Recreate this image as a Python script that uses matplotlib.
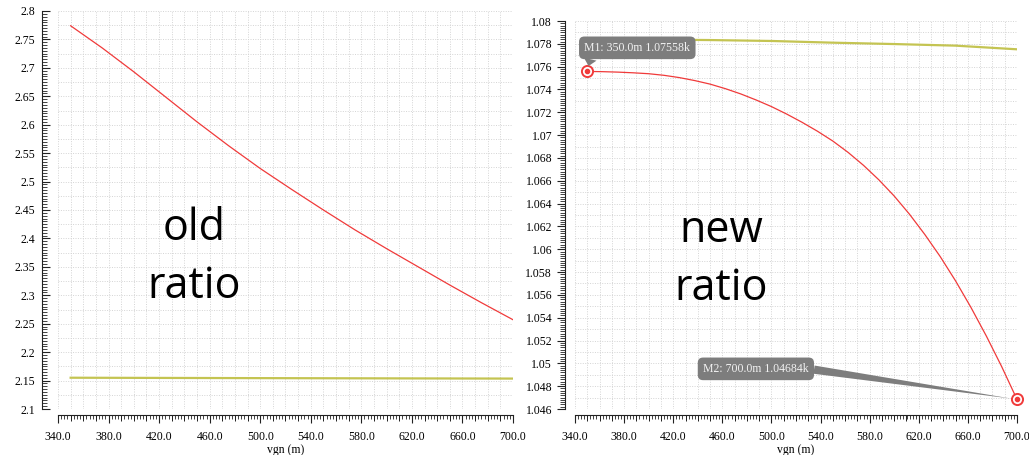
import matplotlib
matplotlib.use("Agg")
import matplotlib.pyplot as plt
from matplotlib.ticker import MultipleLocator, FixedLocator, FormatStrFormatter, FuncFormatter
import numpy as np

SERIF = "Liberation Serif"
plt.rcParams["font.family"] = [SERIF, "DejaVu Serif"]

# ---- data: vgn sweep (mV) ----
vgn_old = [350, 375, 400, 425, 450, 475, 500, 525, 550, 575, 600, 625, 650, 675, 700]
old_ratio_red = [2.774, 2.735, 2.693, 2.649, 2.605, 2.563, 2.523, 2.486,
                 2.450, 2.415, 2.382, 2.350, 2.318, 2.287, 2.257]
vgn_old_flat = [350, 500, 700]
old_ratio_flat = [2.155, 2.1543, 2.1535]

vgn_new = [350, 362.5, 375, 387.5, 400, 412.5, 425, 437.5, 450, 462.5, 475, 487.5,
           500, 512.5, 525, 537.5, 550, 562.5, 575, 587.5, 600, 612.5, 625, 637.5,
           650, 662.5, 675, 687.5, 700]
new_ratio_red = [1.07558, 1.07556, 1.07552, 1.07546, 1.07538, 1.07524, 1.07504, 1.07478,
                 1.07447, 1.07407, 1.07361, 1.07308, 1.07250, 1.07184, 1.07112, 1.07034,
                 1.06948, 1.06848, 1.06735, 1.06608, 1.06466, 1.06306, 1.06128, 1.05935,
                 1.05722, 1.05490, 1.05240, 1.04972, 1.04684]
vgn_new_flat = [350, 450, 500, 550, 600, 650, 700]
new_ratio_flat = [1.07842, 1.07833, 1.07825, 1.07810, 1.07798, 1.07784, 1.07752]

marker_x = [350, 700]
marker_y = [1.07558, 1.04684]
marker_names = ["M1", "M2"]

x_major = [340, 380, 420, 460, 500, 540, 580, 620, 660, 700]

RED = "#f03a3a"
OLIVE = "#c4c452"
GRID = "#d4d4d4"
INK = "#222222"

fig = plt.figure(figsize=(10.29, 4.55), dpi=100)
W, H = 1029, 455


def make_axes(x0, x1, y_top, y_bot):
    return fig.add_axes([x0 / W, 1 - y_bot / H, (x1 - x0) / W, (y_bot - y_top) / H])


def style_axes(ax, ylo, yhi, ymaj, ymin, ygrid, ytick_dir, y_out, y_pad):
    ax.set_xlim(340, 700)
    ax.set_ylim(ylo, yhi)
    for s in ("top", "right"):
        ax.spines[s].set_visible(False)
    ax.spines["left"].set_position(("outward", y_out))
    ax.spines["bottom"].set_position(("outward", 4.5))
    for s in ("left", "bottom"):
        ax.spines[s].set_linewidth(0.8)
        ax.spines[s].set_color(INK)

    ax.xaxis.set_major_locator(FixedLocator(x_major))
    ax.xaxis.set_minor_locator(MultipleLocator(2.5))
    ax.xaxis.set_major_formatter(FormatStrFormatter("%.1f"))
    ax.yaxis.set_major_locator(MultipleLocator(ymaj))
    ax.yaxis.set_minor_locator(MultipleLocator(ymin))
    ax.yaxis.set_major_formatter(FuncFormatter(lambda v, p: f"{v:.3f}".rstrip("0").rstrip(".")))

    ax.tick_params(axis="x", which="major", direction="out", length=6, width=0.8,
                   labelsize=8.5, pad=5, color=INK, labelfontfamily=SERIF)
    ax.tick_params(axis="x", which="minor", direction="out", length=3, width=0.6, color=INK)
    ax.tick_params(axis="y", which="major", direction=ytick_dir, length=6, width=0.8,
                   labelsize=8.5, pad=y_pad, color=INK, labelfontfamily=SERIF)
    ax.tick_params(axis="y", which="minor", direction=ytick_dir, length=3.5, width=0.6,
                   color=INK)

    # medium ticks every 10 on the x axis
    sec = ax.secondary_xaxis("bottom")
    sec.spines["bottom"].set_position(("outward", 4.5))
    sec.spines["bottom"].set_visible(False)
    sec.set_xticks(np.arange(340, 701, 10))
    sec.tick_params(axis="x", direction="out", length=4.5, width=0.7, labelbottom=False,
                    color=INK)

    # dotted grid
    for gx in np.arange(340, 701, 10):
        ax.axvline(gx, color=GRID, lw=0.7, ls=(0, (1, 1.5)), zorder=0)
    for gy in np.arange(ylo, yhi + ygrid / 2, ygrid):
        ax.axhline(gy, color=GRID, lw=0.7, ls=(0, (1, 1.5)), zorder=0)

    ax.set_xlabel("vgn (m)", fontsize=8.5, labelpad=1, fontfamily=SERIF)


# ---- left panel: old ratio ----
axL = make_axes(58, 513, 11, 409)
style_axes(axL, 2.1, 2.8, 0.05, 0.005, 0.025, "in", 11.5, 5)
axL.plot(vgn_old, old_ratio_red, color=RED, lw=0.9)
axL.plot(vgn_old_flat, old_ratio_flat, color=OLIVE, lw=1.6)
axL.text(0.3, 0.38, "old\nratio", transform=axL.transAxes, ha="center", va="center",
         fontsize=31, fontfamily="Open Sans", linespacing=1.4, color="black")

# ---- right panel: new ratio ----
axR = make_axes(575, 1017, 21, 409)
style_axes(axR, 1.046, 1.08, 0.002, 0.0002, 0.001, "out", 7.5, 3)
axR.plot(vgn_new, new_ratio_red, color=RED, lw=0.9)
axR.plot(vgn_new_flat, new_ratio_flat, color=OLIVE, lw=1.6)
axR.text(0.33, 0.385, "new\nratio", transform=axR.transAxes, ha="center", va="center",
         fontsize=31, fontfamily="Open Sans", linespacing=1.4, color="black")

# markers with callouts
axR.plot(marker_x, marker_y, "o", ms=8, mfc="white", mec=RED, mew=1.4, zorder=5, clip_on=False)
axR.plot(marker_x, marker_y, "o", ms=3, mfc=RED, mec=RED, zorder=6, clip_on=False)

offsets = [(36, 17), (-188, 22)]
relpos = [(0.07, 0.1), (1.0, 0.5)]
tails = [1.1, 0.7]
for name, mx, my, off, rp, tw in zip(marker_names, marker_x, marker_y, offsets, relpos, tails):
    label = f"{name}: {mx:.1f}m {my:.5f}k"
    axR.annotate(label, xy=(mx, my), xytext=off, textcoords="offset points",
                 ha="center", va="center", fontsize=8.5, color="#f2f2f2", fontfamily=SERIF,
                 bbox=dict(boxstyle="round,pad=0.45,rounding_size=0.45", fc="#7d7d7d", ec="none"),
                 arrowprops=dict(arrowstyle=f"wedge,tail_width={tw},shrink_factor=0.5",
                                 fc="#7d7d7d", ec="none", relpos=rp, shrinkA=0, shrinkB=4),
                 zorder=7, annotation_clip=False)

fig.savefig("out.png", dpi=100)
